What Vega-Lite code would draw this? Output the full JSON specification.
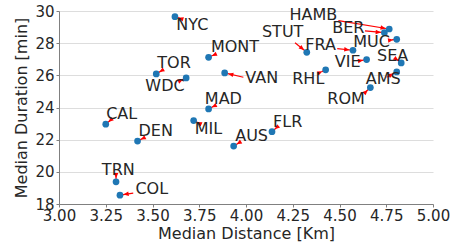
{
  "$schema": "https://vega.github.io/schema/vega-lite/v6.json",
  "width": 374,
  "height": 193,
  "autosize": "none",
  "padding": {"left": 59, "top": 11, "right": 17, "bottom": 46},
  "background": "white",
  "config": {
    "view": {"stroke": null},
    "font": "DejaVu Sans",
    "axis": {
      "labelFont": "DejaVu Sans",
      "titleFont": "DejaVu Sans",
      "labelColor": "#262626",
      "titleColor": "#262626",
      "titleFontWeight": "normal",
      "domainColor": "#808080",
      "tickColor": "#808080",
      "tickSize": 3,
      "gridColor": "#dddddd",
      "gridWidth": 1,
      "labelOverlap": false
    }
  },
  "data": {
    "values": [
      {"city": "NYC", "x": 3.62, "y": 29.65, "lx": 3.713, "ly": 29.13, "ax": 3.647, "ay": 29.55},
      {"city": "MONT", "x": 3.80, "y": 27.12, "lx": 3.941, "ly": 27.78, "ax": 3.84, "ay": 27.33},
      {"city": "TOR", "x": 3.52, "y": 26.09, "lx": 3.615, "ly": 26.75, "ax": 3.549, "ay": 26.29},
      {"city": "WDC", "x": 3.68, "y": 25.84, "lx": 3.567, "ly": 25.34, "ax": 3.656, "ay": 25.71},
      {"city": "VAN", "x": 3.886, "y": 26.15, "lx": 4.084, "ly": 25.82, "ax": 3.986, "ay": 25.88},
      {"city": "MAD", "x": 3.80, "y": 23.91, "lx": 3.879, "ly": 24.53, "ax": 3.825, "ay": 24.06},
      {"city": "CAL", "x": 3.25, "y": 22.96, "lx": 3.335, "ly": 23.6, "ax": 3.273, "ay": 23.19},
      {"city": "DEN", "x": 3.42, "y": 21.91, "lx": 3.517, "ly": 22.55, "ax": 3.447, "ay": 22.07},
      {"city": "MIL", "x": 3.72, "y": 23.19, "lx": 3.799, "ly": 22.65, "ax": 3.75, "ay": 23.02},
      {"city": "AUS", "x": 3.934, "y": 21.6, "lx": 4.03, "ly": 22.24, "ax": 3.959, "ay": 21.78},
      {"city": "FLR", "x": 4.139, "y": 22.5, "lx": 4.223, "ly": 23.09, "ax": 4.16, "ay": 22.71},
      {"city": "TRN", "x": 3.305, "y": 19.38, "lx": 3.317, "ly": 20.12, "ax": 3.305, "ay": 19.75},
      {"city": "COL", "x": 3.326, "y": 18.55, "lx": 3.496, "ly": 18.93, "ax": 3.397, "ay": 18.68},
      {"city": "HAMB", "x": 4.766, "y": 28.88, "lx": 4.36, "ly": 29.75, "ax": 4.494, "ay": 29.4},
      {"city": "BER", "x": 4.74, "y": 28.65, "lx": 4.547, "ly": 28.92, "ax": 4.636, "ay": 28.76},
      {"city": "MUC", "x": 4.806, "y": 28.24, "lx": 4.672, "ly": 28.09, "ax": 4.78, "ay": 28.2},
      {"city": "STUT", "x": 4.325, "y": 27.43, "lx": 4.196, "ly": 28.68, "ax": 4.262, "ay": 28.03},
      {"city": "FRA", "x": 4.572, "y": 27.56, "lx": 4.399, "ly": 27.89, "ax": 4.488, "ay": 27.66},
      {"city": "VIE", "x": 4.645, "y": 26.98, "lx": 4.544, "ly": 26.85, "ax": 4.61, "ay": 26.91},
      {"city": "SEA", "x": 4.83, "y": 26.77, "lx": 4.784, "ly": 27.2, "ax": 4.797, "ay": 27.06},
      {"city": "RHL", "x": 4.426, "y": 26.34, "lx": 4.333, "ly": 25.78, "ax": 4.405, "ay": 26.23},
      {"city": "AMS", "x": 4.806, "y": 26.21, "lx": 4.734, "ly": 25.78, "ax": 4.752, "ay": 25.88},
      {"city": "ROM", "x": 4.665, "y": 25.24, "lx": 4.535, "ly": 24.53, "ax": 4.633, "ay": 24.89}
    ]
  },
  "layer": [
    {
      "mark": {"type": "rule", "color": "#ff0000", "strokeWidth": 1.2},
      "encoding": {
        "x": {
          "field": "ax", "type": "quantitative",
          "scale": {"domain": [3, 5], "nice": false, "zero": false},
          "axis": {
            "title": "Median Distance [Km]",
            "values": [3, 3.25, 3.5, 3.75, 4, 4.25, 4.5, 4.75, 5],
            "tickCount": 9,
            "format": ".2f",
            "grid": false,
            "labelFontSize": 15,
            "titleFontSize": 16,
            "labelPadding": 1,
            "titlePadding": 2,
            "labelFlush": false,
            "labelOverlap": false
          }
        },
        "y": {
          "field": "ay", "type": "quantitative",
          "scale": {"domain": [18, 30], "nice": false, "zero": false},
          "axis": {
            "title": "Median Duration [min]",
            "values": [18, 20, 22, 24, 26, 28, 30],
            "tickCount": 7,
            "grid": true,
            "labelFontSize": 15,
            "titleFontSize": 16,
            "labelPadding": 2,
            "titlePadding": 5,
            "labelFlush": false,
            "labelOverlap": false
          }
        },
        "x2": {"field": "x"},
        "y2": {"field": "y"}
      }
    },
    {
      "mark": {"type": "point", "filled": true, "color": "#1f77b4", "size": 45, "opacity": 1},
      "encoding": {
        "x": {"field": "x", "type": "quantitative"},
        "y": {"field": "y", "type": "quantitative"}
      }
    },
    {
      "transform": [
        {"calculate": "atan2((datum.ax - datum.x) * 187, (datum.ay - datum.y) * 16.1) * 180 / PI", "as": "ang"}
      ],
      "mark": {
        "type": "point",
        "filled": true,
        "color": "#ff0000",
        "opacity": 1,
        "size": 100,
        "shape": "M0,-0.7L0.45,-1.75L-0.45,-1.75Z"
      },
      "encoding": {
        "x": {"field": "x", "type": "quantitative"},
        "y": {"field": "y", "type": "quantitative"},
        "angle": {"field": "ang", "type": "quantitative", "scale": null}
      }
    },
    {
      "mark": {"type": "text", "font": "DejaVu Sans", "fontSize": 16, "color": "#262626", "align": "center", "baseline": "middle"},
      "encoding": {
        "x": {"field": "lx", "type": "quantitative"},
        "y": {"field": "ly", "type": "quantitative"},
        "text": {"field": "city", "type": "nominal"}
      }
    }
  ]
}
